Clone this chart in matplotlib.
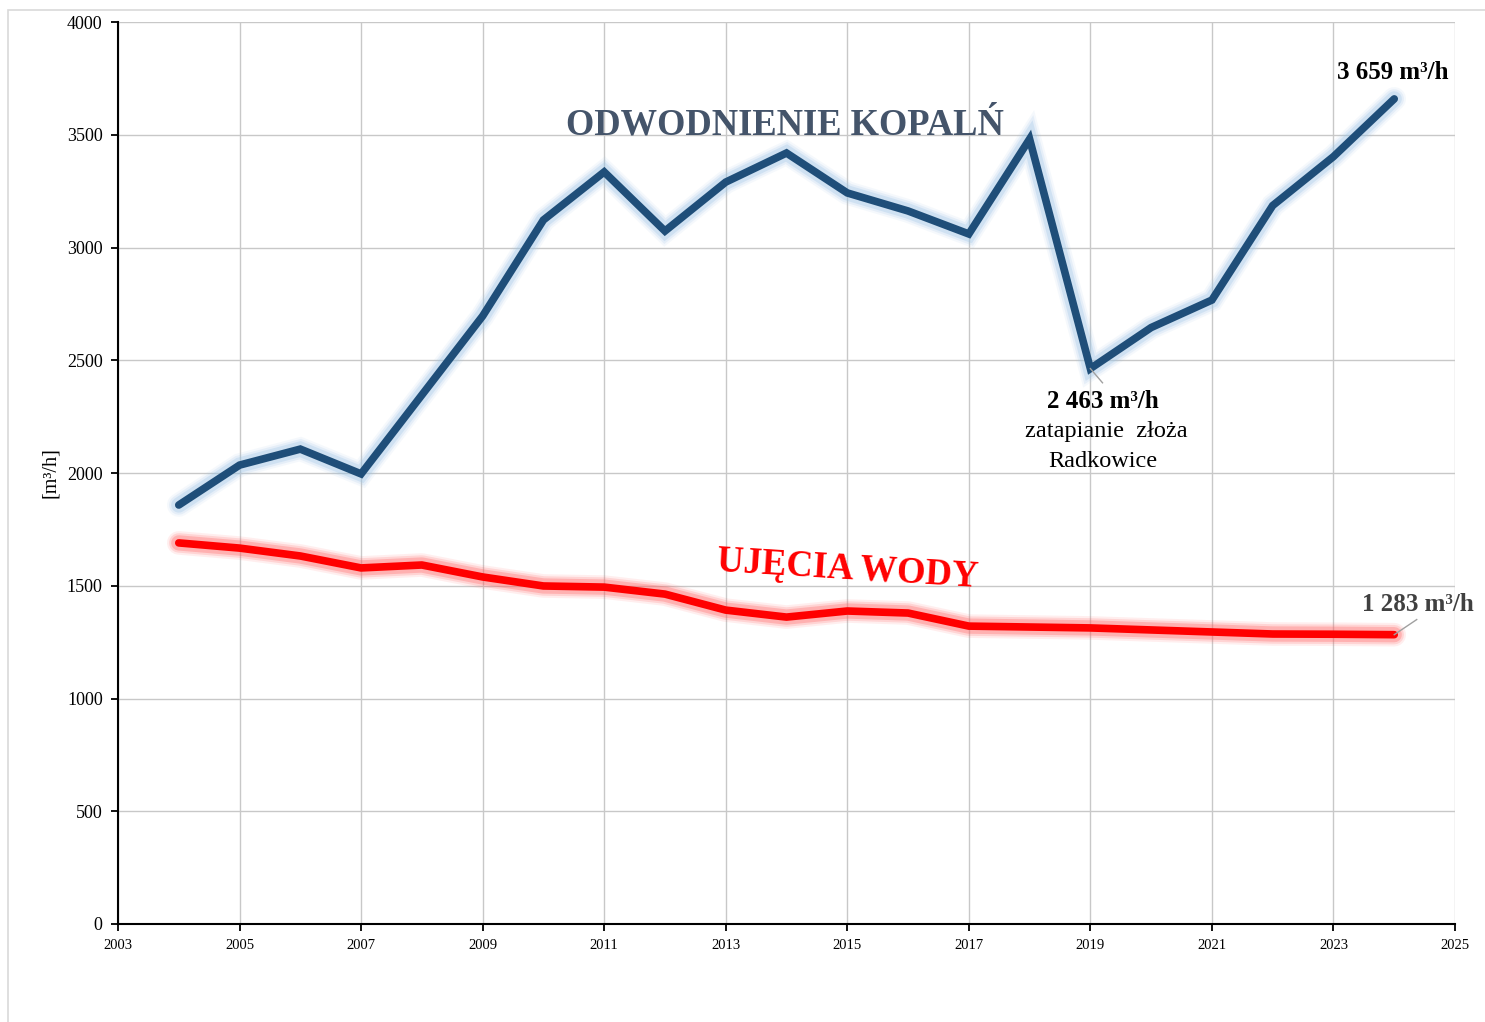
import matplotlib
matplotlib.use("Agg")
import matplotlib.pyplot as plt
import matplotlib.patheffects as pe
from matplotlib.patches import Rectangle

plt.rcParams['font.family'] = ['Liberation Serif', 'DejaVu Serif']

years = list(range(2004, 2025))
odwodnienie = [1858, 2035, 2106, 1996, 2346, 2696, 3122, 3335, 3073, 3290, 3419,
               3242, 3162, 3060, 3481, 2463, 2645, 2767, 3186, 3403, 3659]
ujecia = [1690, 1667, 1632, 1579, 1592, 1539, 1499, 1494, 1463, 1392, 1361,
          1388, 1379, 1321, 1317, 1313, 1304, 1295, 1286, 1285, 1283]
x_ticks = list(range(2003, 2026, 2))
y_ticks = list(range(0, 4001, 500))

fig = plt.figure(figsize=(14.85, 10.22), dpi=100)
fig.patches.append(Rectangle((8/1485, -0.01), 1.02, (1022-10)/1022 + 0.01,
                             transform=fig.transFigure, fill=False,
                             edgecolor='#d9d9d9', linewidth=1.2))
ax = fig.add_axes([118/1485, 1-924/1022, (1455-118)/1485, (924-22)/1022])

ax.set_xlim(2003, 2025)
ax.set_ylim(0, 4000)
ax.set_xticks(x_ticks)
ax.set_yticks(y_ticks)
ax.grid(True, color='#c8c8c8', linewidth=1.0)
ax.set_axisbelow(True)
for s in ['top', 'right']:
    ax.spines[s].set_visible(False)
for s in ['left', 'bottom']:
    ax.spines[s].set_color('black')
    ax.spines[s].set_linewidth(1.5)
ax.tick_params(axis='y', labelsize=13, length=5, width=1.3, direction='out', pad=6)
ax.tick_params(axis='x', labelsize=10.5, length=5, width=1.3, direction='out', pad=6)

def glow(color):
    return [pe.Stroke(linewidth=17, foreground=color, alpha=0.10),
            pe.Stroke(linewidth=14, foreground=color, alpha=0.18),
            pe.Stroke(linewidth=11, foreground=color, alpha=0.30),
            pe.Normal()]

ax.plot(years, odwodnienie, color='#1f4e79', linewidth=5.5, solid_joinstyle='miter',
        solid_capstyle='round', path_effects=glow('#9dc3e6'), zorder=3)
ax.plot(years, ujecia, color='#ff0000', linewidth=5.5, solid_joinstyle='round',
        solid_capstyle='round', path_effects=glow('#ff6060'), zorder=3)

ax.set_ylabel('[m³/h]', fontsize=14.5, labelpad=5)

ax.text(2013.98, 3545, 'ODWODNIENIE KOPALŃ', fontsize=26.3, fontweight='bold',
        color='#44546a', ha='center', va='center')
ax.text(2015.0, 1572, 'UJĘCIA WODY', fontsize=26.5, fontweight='bold',
        color='#ff0000', ha='center', va='center', rotation=-3.5)

ax.text(2023.98, 3778, '3 659 m³/h', fontsize=18, fontweight='bold',
        color='black', ha='center', va='center')

ax.plot([2019.0, 2019.2], [2463, 2400], color='#a0a0a0', linewidth=1, zorder=4)
ax.text(2019.21, 2315, '2 463 m³/h', fontsize=18, fontweight='bold',
        color='black', ha='center', va='center')
ax.text(2019.26, 2182, 'zatapianie  złoża', fontsize=17.5,
        color='black', ha='center', va='center')
ax.text(2019.21, 2053, 'Radkowice', fontsize=17.5,
        color='black', ha='center', va='center')

ax.plot([2024.0, 2024.37], [1283, 1350], color='#a0a0a0', linewidth=1, zorder=4)
ax.text(2024.39, 1419, '1 283 m³/h', fontsize=18, fontweight='bold',
        color='#404040', ha='center', va='center')

fig.savefig('out.png', dpi=100)
